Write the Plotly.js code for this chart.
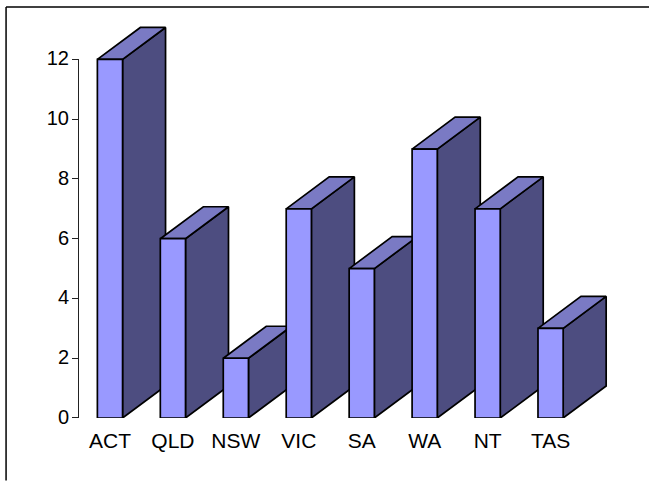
<!DOCTYPE html>
<html>
<head>
<meta charset="utf-8">
<script src="https://cdn.plot.ly/plotly-3.0.1.min.js"></script>
<style>html,body{margin:0;padding:0;background:#fff}#c{width:649px;height:481px}</style>
</head>
<body>
<div id="c"></div>
<script>
const categories = ["ACT","QLD","NSW","VIC","SA","WA","NT","TAS"];
const values = [12,6,2,7,5,9,7,3];
const yTicks = [0,2,4,6,8,10,12];
const frontColor = "#9999FF";
const topColor = "#7A7AC4";
const sideColor = "#4D4D80";
const barHalf = 0.2;
const depthX = 0.683;
const depthY = 1.07;

const W = 649, H = 481;
const m = {l:78.5, r:0, t:0, b:62.5};
const pw = W-m.l-m.r, ph = H-m.t-m.b;
const unitX = 63, unitY = 359/12;
const edge = {color:"#000", width:1.7};
const traces = [];
function poly(xs, ys, color){
  traces.push({type:"scatter", mode:"lines", x:xs, y:ys, fill:"toself", fillcolor:color,
    line:edge, hoverinfo:"skip", showlegend:false, cliponaxis:false});
}
values.forEach((v,i)=>{
  const a = i-barHalf, b = i+barHalf;
  poly([b,b+depthX,b+depthX,b,b],[0,depthY,v+depthY,v,0],sideColor);
  poly([a,a+depthX,b+depthX,b,a],[v,v+depthY,v+depthY,v,v],topColor);
  poly([a,b,b,a,a],[0,0,v,v,0],frontColor);
});
// carrier for the visible value axis
traces.push({type:"scatter", mode:"none", x:[0], y:[0], yaxis:"y2", hoverinfo:"skip", showlegend:false});
const px = x => (x-m.l)/pw, py = y => 1-(y-m.t)/ph;
const xStart = -0.492;
const layout = {
  width:W, height:H, margin:m, showlegend:false,
  paper_bgcolor:"#fff", plot_bgcolor:"rgba(0,0,0,0)",
  font:{family:"Liberation Sans, Arial, sans-serif", size:20, color:"#000"},
  xaxis:{range:[xStart, xStart+pw/unitX], tickmode:"array", tickvals:categories.map((c,i)=>i), ticktext:categories,
    tickfont:{size:21}, showgrid:false, zeroline:false, showline:false,
    ticks:"outside", ticklen:4, tickcolor:"rgba(0,0,0,0)", tickangle:0, automargin:false},
  yaxis:{range:[0, ph/unitY], visible:false, fixedrange:true},
  yaxis2:{domain:[0, 359/ph], range:[0,12], anchor:"x", side:"left", tickmode:"array", tickvals:yTicks, ticktext:yTicks.map(String),
    showgrid:false, zeroline:false, showline:true, linecolor:"#222", linewidth:1,
    ticks:"outside", ticklen:6, tickwidth:1, tickcolor:"#222", automargin:false,
    ticklabelshift:-1, ticklabelstandoff:-1},
  shapes:[
    {type:"line", xref:"paper", yref:"paper", x0:px(5.5), x1:px(649), y0:py(7), y1:py(7), line:{color:"#000",width:1.5}},
    {type:"line", xref:"paper", yref:"paper", x0:px(5.5), x1:px(5.5), y0:py(7), y1:py(481), line:{color:"#000",width:1.5}}
  ]
};
Plotly.newPlot("c", traces, layout, {displayModeBar:false, staticPlot:true});
</script>
</body>
</html>
